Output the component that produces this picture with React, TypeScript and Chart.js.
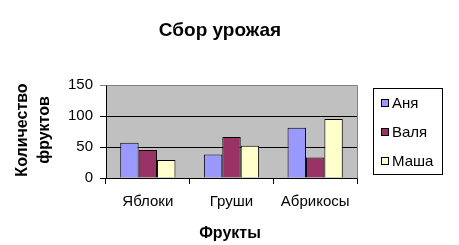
import React, { useEffect, useRef } from "react";
import { Chart, registerables } from "chart.js";

Chart.register(...registerables);

const chartTitle = "Сбор урожая";
const xAxisTitle = "Фрукты";
const yAxisTitleLines = ["Количество", "фруктов"];
const categories = ["Яблоки", "Груши", "Абрикосы"];
const seriesNames = ["Аня", "Валя", "Маша"];
const anyaValues = [57, 38, 81];
const valyaValues = [45, 66, 33];
const mashaValues = [29, 52, 95];
const seriesColors = ["#9999FF", "#993366", "#FFFFCC"];
const yTicks = [0, 50, 100, 150];

const FONT = "'Liberation Sans', Arial, sans-serif";

export default function App() {
  const ref = useRef<HTMLCanvasElement | null>(null);

  useEffect(() => {
    if (!ref.current) return;
    const seriesValues = [anyaValues, valyaValues, mashaValues];

    const decor = {
      id: "decor",
      beforeDraw(chart: any) {
        const { ctx, chartArea: a } = chart;
        ctx.save();
        ctx.fillStyle = "#ffffff";
        ctx.fillRect(0, 0, chart.width, chart.height);
        ctx.fillStyle = "#C0C0C0";
        ctx.fillRect(a.left, a.top, a.right - a.left, a.bottom - a.top);
        ctx.restore();
      },
      beforeDatasetsDraw(chart: any) {
        const { ctx, chartArea: a } = chart;
        ctx.save();
        ctx.strokeStyle = "#808080";
        ctx.lineWidth = 1;
        ctx.beginPath();
        ctx.moveTo(Math.round(a.left) + 0.5, Math.round(a.top) + 0.5);
        ctx.lineTo(Math.round(a.right) + 0.5, Math.round(a.top) + 0.5);
        ctx.lineTo(Math.round(a.right) + 0.5, Math.round(a.bottom) + 0.5);
        ctx.stroke();
        ctx.restore();
      },
      afterDraw(chart: any) {
        const { ctx } = chart;
        ctx.save();
        ctx.fillStyle = "#000";
        // title
        ctx.font = `bold 19px ${FONT}`;
        ctx.textAlign = "center";
        ctx.textBaseline = "middle";
        ctx.fillText(chartTitle, 220, 31);
        // x title
        ctx.font = `bold 16px ${FONT}`;
        ctx.textBaseline = "alphabetic";
        ctx.fillText(xAxisTitle, 230, 238);
        // y title
        ctx.save();
        ctx.translate(0, 130);
        ctx.rotate(-Math.PI / 2);
        ctx.textAlign = "center";
        ctx.textBaseline = "alphabetic";
        ctx.fillText(yAxisTitleLines[0], 0, 27);
        ctx.fillText(yAxisTitleLines[1], 0, 49);
        ctx.restore();
        // legend
        ctx.strokeStyle = "#000";
        ctx.lineWidth = 1;
        ctx.strokeRect(373.5, 88.5, 69, 86);
        const ys = [103, 132, 161];
        ctx.font = `15px ${FONT}`;
        ctx.textAlign = "left";
        ctx.textBaseline = "middle";
        seriesNames.forEach((n, i) => {
          const cy = ys[i];
          ctx.fillStyle = seriesColors[i];
          ctx.fillRect(381.5, cy - 3.5, 7, 7);
          ctx.strokeRect(381.5, cy - 3.5, 7, 7);
          ctx.fillStyle = "#000";
          ctx.fillText(n, 392, cy + 1);
        });
        ctx.restore();
      },
    };

    const chart = new Chart(ref.current, {
      type: "bar",
      data: {
        labels: categories,
        datasets: seriesNames.map((n, i) => ({
          label: n,
          data: seriesValues[i],
          backgroundColor: seriesColors[i],
          borderColor: "#000",
          borderWidth: 1,
          categoryPercentage: 0.66,
          barPercentage: 1,
        })),
      },
      options: {
        responsive: false,
        animation: false,
        devicePixelRatio: 1,
        layout: { padding: { top: 85, right: 102, bottom: 0, left: 0 } },
        plugins: {
          legend: { display: false },
          title: { display: false },
          tooltip: { enabled: false },
        },
        scales: {
          x: {
            type: "category",
            offset: true,
            afterFit: (s: any) => {
              s.height = 67;
            },
            grid: {
              offset: true,
              drawOnChartArea: false,
              drawTicks: true,
              tickLength: 6,
              color: "#000",
            },
            border: { display: true, color: "#000", width: 1 },
            ticks: {
              color: "#000",
              font: { family: FONT, size: 15 },
              padding: 9,
              maxRotation: 0,
            },
          },
          y: {
            min: 0,
            max: 150,
            afterFit: (s: any) => {
              s.width = 106;
            },
            afterBuildTicks: (s: any) => {
              s.ticks = yTicks.map((v) => ({ value: v }));
            },
            grid: {
              color: (c: any) => (c.tick && c.tick.value === 150 ? "#808080" : "#000"),
              tickLength: 6,
              drawTicks: true,
            },
            border: { display: true, color: "#000", width: 1 },
            ticks: {
              color: "#000",
              font: { family: FONT, size: 15 },
              padding: 7,
            },
          },
        },
      },
      plugins: [decor],
    } as any);

    return () => chart.destroy();
  }, []);

  return (
    <div style={{ position: "fixed", left: 0, top: 0, width: 459, height: 245, background: "#fff" }}>
      <canvas ref={ref} width={459} height={245} style={{ width: 459, height: 245, display: "block" }} />
    </div>
  );
}
